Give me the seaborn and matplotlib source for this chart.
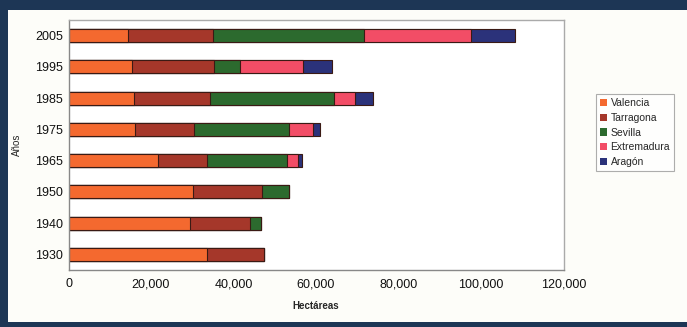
import matplotlib
matplotlib.use("Agg")
import matplotlib.pyplot as plt
from matplotlib.patches import Rectangle, Patch
from matplotlib.ticker import FuncFormatter
import seaborn as sns
import pandas as pd
import numpy as np

years = ["2005", "1995", "1985", "1975", "1965", "1950", "1940", "1930"]
valencia = [14500, 15470, 15880, 16120, 21770, 30100, 29450, 33500]
tarragona = [20450, 19800, 18420, 14380, 11730, 16880, 14550, 13960]
sevilla = [36800, 6300, 30130, 23030, 19540, 6550, 2660, 0]
extremadura = [25740, 15350, 5020, 5820, 2670, 0, 0, 0]
aragon = [10740, 6880, 4440, 1610, 820, 0, 0, 0]

series_names = ["Valencia", "Tarragona", "Sevilla", "Extremadura", "Aragón"]
series_vals = [valencia, tarragona, sevilla, extremadura, aragon]
colors = ["#f4692f", "#a5372a", "#2c6a2e", "#f24d66", "#2b327a"]

sns.set_theme(style="white")
plt.rcParams["font.family"] = ["Liberation Sans", "DejaVu Sans"]

fig = plt.figure(figsize=(6.87, 3.27), dpi=100)
fig.patch.set_facecolor("#1d3655")
fig.patches.append(Rectangle((8 / 687, 5 / 327), 1 - 8 / 687, 1 - 15 / 327,
                             transform=fig.transFigure, facecolor="#fdfdf9",
                             edgecolor="none", zorder=-10))

ax = fig.add_axes([68.5 / 687, 1 - 270 / 327, 495 / 687, 250 / 327])
ax.set_facecolor("white")
ax.set_zorder(1)

cum = np.cumsum(np.array(series_vals), axis=0)
df = pd.DataFrame({"year": years})
for i in range(len(series_names) - 1, -1, -1):
    df["cum"] = cum[i]
    sns.barplot(data=df, x="cum", y="year", order=years, orient="h",
                color=colors[i], saturation=1, width=0.42,
                edgecolor="#3a1a14", linewidth=0.8, ax=ax)

ax.set_xlim(0, 120000)
ax.set_xticks(np.arange(0, 120001, 20000))
ax.xaxis.set_major_formatter(FuncFormatter(lambda v, p: f"{int(v):,}"))
ax.tick_params(axis="both", labelsize=9, colors="#111111", length=0, pad=4)
ax.tick_params(axis="x", pad=6)
ax.set_xlabel("Hectáreas", fontsize=7, fontweight="bold", labelpad=8)
ax.set_ylabel("Años", fontsize=7, labelpad=9)
for s in ["top", "right"]:
    ax.spines[s].set_color("#aaaaaa")
    ax.spines[s].set_linewidth(1)
for s in ["left", "bottom"]:
    ax.spines[s].set_color("#888888")
    ax.spines[s].set_linewidth(1)

handles = [Patch(facecolor=c, edgecolor="none") for c in colors]
leg = fig.legend(handles, series_names, loc="upper left",
                 bbox_to_anchor=(596 / 687, 1 - 94 / 327),
                 fontsize=7.5, frameon=True, fancybox=False,
                 handlelength=0.7, handleheight=0.7, handletextpad=0.3,
                 borderpad=0.4, labelspacing=0.45, borderaxespad=0)
leg.get_frame().set_edgecolor("#999999")
leg.get_frame().set_linewidth(0.8)

fig.savefig("out.png", dpi=100, facecolor=fig.get_facecolor())
